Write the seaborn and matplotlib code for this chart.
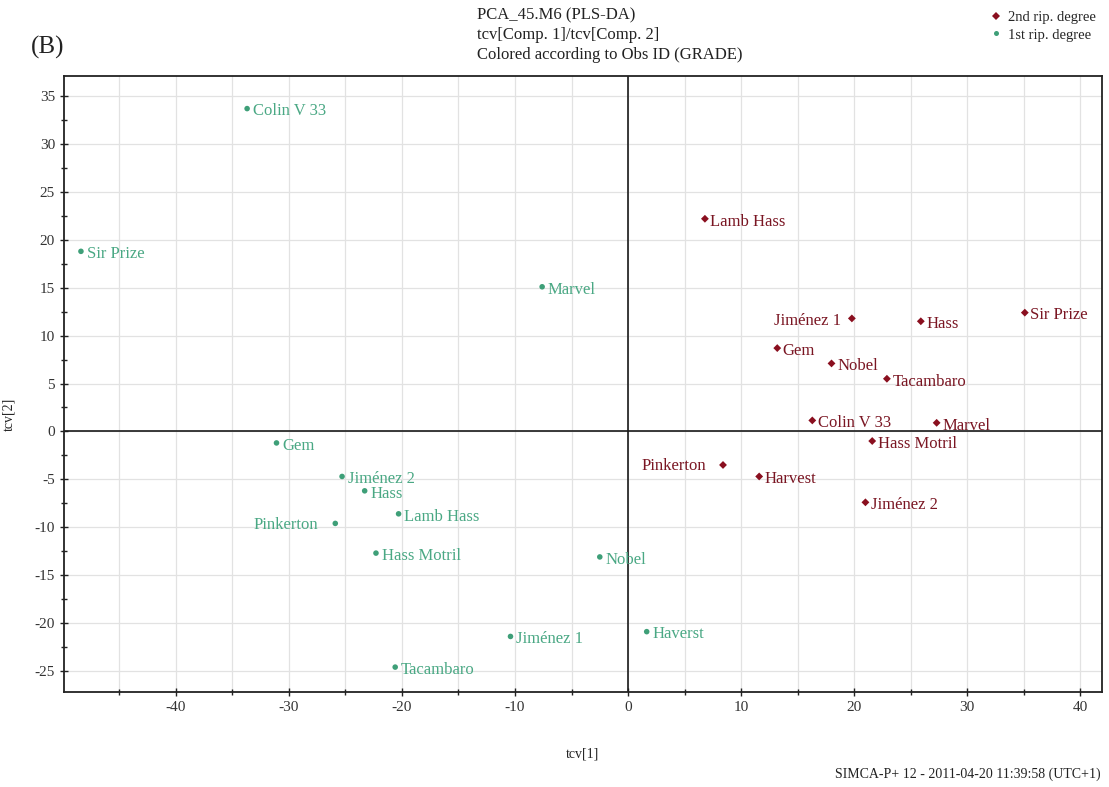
import pandas as pd
import seaborn as sns
import matplotlib.pyplot as plt
from matplotlib.ticker import MultipleLocator

# tcv scores
red_names = ['Lamb Hass', 'Jiménez 1', 'Hass', 'Sir Prize', 'Gem', 'Nobel', 'Tacambaro',
             'Colin V 33', 'Marvel', 'Hass Motril', 'Pinkerton', 'Harvest', 'Jiménez 2']
red_x = [6.8, 19.8, 25.9, 35.1, 13.2, 18.0, 22.9, 16.3, 27.3, 21.6, 8.4, 11.6, 21.0]
red_y = [22.2, 11.8, 11.5, 12.4, 8.7, 7.1, 5.5, 1.15, 0.9, -1.0, -3.5, -4.7, -7.4]

green_names = ['Colin V 33', 'Sir Prize', 'Marvel', 'Gem', 'Jiménez 2', 'Hass', 'Lamb Hass',
               'Pinkerton', 'Hass Motril', 'Nobel', 'Jiménez 1', 'Tacambaro', 'Haverst']
green_x = [-33.7, -48.4, -7.6, -31.1, -25.3, -23.3, -20.3, -25.9, -22.3, -2.5, -10.4, -20.6, 1.65]
green_y = [33.7, 18.8, 15.1, -1.2, -4.7, -6.2, -8.6, -9.6, -12.7, -13.1, -21.4, -24.6, -20.9]

left_labels = {('2nd rip. degree', 'Jiménez 1'), ('2nd rip. degree', 'Pinkerton'),
               ('1st rip. degree', 'Pinkerton')}

df = pd.DataFrame({
    'name': red_names + green_names,
    'tcv1': red_x + green_x,
    'tcv2': red_y + green_y,
    'grade': ['2nd rip. degree'] * len(red_names) + ['1st rip. degree'] * len(green_names),
})

marker_col = {'2nd rip. degree': '#8a0f1f', '1st rip. degree': '#3e9f78'}
text_col = {'2nd rip. degree': '#7a1623', '1st rip. degree': '#4aa884'}

sns.set_style('white')
plt.rcParams['font.family'] = ['Liberation Serif', 'DejaVu Serif']
plt.rcParams['axes.unicode_minus'] = False

fig = plt.figure(figsize=(11.09, 7.87), dpi=100)
ax = fig.add_axes([0.0577, 0.1207, 0.9357, 0.7827])

ax.xaxis.set_major_locator(MultipleLocator(10))
ax.xaxis.set_minor_locator(MultipleLocator(5))
ax.yaxis.set_major_locator(MultipleLocator(5))
ax.yaxis.set_minor_locator(MultipleLocator(2.5))
ax.grid(True, which='major', color='#e2e2e2', lw=0.9)
ax.grid(True, which='minor', axis='x', color='#e2e2e2', lw=0.9)
ax.set_axisbelow(True)

ax.axhline(0, color='#1a1a1a', lw=1.2, zorder=1)
ax.axvline(0, color='#1a1a1a', lw=1.2, zorder=1)

sns.scatterplot(data=df, x='tcv1', y='tcv2', hue='grade', style='grade',
                hue_order=['2nd rip. degree', '1st rip. degree'],
                style_order=['2nd rip. degree', '1st rip. degree'],
                palette=marker_col,
                markers={'2nd rip. degree': 'D', '1st rip. degree': 'o'},
                s=16, edgecolor='none', ax=ax, zorder=3)

for _, r in df.iterrows():
    if (r['grade'], r['name']) in left_labels:
        off, ha = (-8, -2) if r['name'] == 'Jiménez 1' else (-12, -1), 'right'
    else:
        off, ha = (4, -2), 'left'
    ax.annotate(r['name'], (r['tcv1'], r['tcv2']), xytext=off, textcoords='offset points',
                ha=ha, va='center', fontsize=12, color=text_col[r['grade']])

ax.set_xlim(-49.9, 41.9)
ax.set_ylim(-27.2, 37.1)

for s in ax.spines.values():
    s.set_visible(True)
    s.set_color('#222222')
    s.set_linewidth(1.3)

ax.tick_params(which='both', direction='inout', length=6, width=1, color='#222222',
               labelsize=11, labelcolor='#333333', left=True, bottom=True)
ax.tick_params(which='minor', length=5)
ax.set_xlabel('tcv[1]', fontsize=10, labelpad=24)
ax.set_ylabel('tcv[2]', fontsize=10, labelpad=14)
ax.yaxis.set_label_coords(-0.047, 0.45)

sns.move_legend(ax, 'upper right', bbox_to_anchor=(1.0, 1.003),
                bbox_transform=fig.transFigure, frameon=False, title=None,
                fontsize=10.5, handlelength=0.8, handletextpad=0.4,
                labelspacing=0.3, markerscale=0.9)

fig.text(0.43, 0.99, 'PCA_45.M6 (PLS-DA)\ntcv[Comp. 1]/tcv[Comp. 2]\nColored according to Obs ID (GRADE)',
         ha='left', va='top', fontsize=12, color='#222222', linespacing=1.28)
fig.text(0.028, 0.94, '(B)', ha='left', va='center', fontsize=18, color='#222222')
fig.text(0.992, 0.008, 'SIMCA-P+ 12 - 2011-04-20 11:39:58 (UTC+1)', ha='right', va='bottom',
         fontsize=10, color='#222222')

fig.savefig('out.png', dpi=100)
